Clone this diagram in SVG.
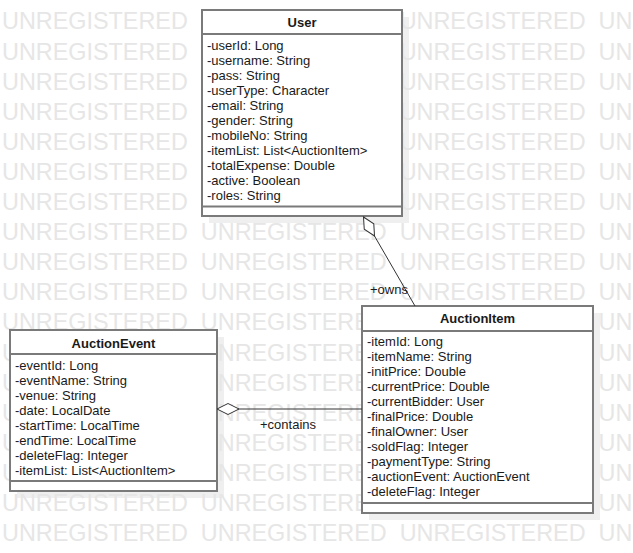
<svg xmlns="http://www.w3.org/2000/svg" width="633" height="553" viewBox="0 0 633 553">
  <style>
    .wm { font-family: "Liberation Sans", Arial, sans-serif; font-size: 23.4px; fill: #e6e6e6; word-spacing: 6.5px; }
    .shadow { fill: #efefef; }
    .box { fill: #ffffff; stroke: #7a7a7a; stroke-width: 2; }
    .sep { stroke: #7a7a7a; stroke-width: 2; }
    .title { font-family: "Liberation Sans", Arial, sans-serif; font-size: 13px; font-weight: bold; fill: #1a1a1a; text-anchor: middle; }
    .attr { font-family: "Liberation Sans", Arial, sans-serif; font-size: 13px; fill: #1a1a1a; }
    .conn { fill: none; stroke: #333333; stroke-width: 1; }
    .label { font-family: "Liberation Sans", Arial, sans-serif; font-size: 13px; fill: #1a1a1a; }
  </style>
  <defs>
    <!-- hollow aggregation diamond, placed at the whole end of an association -->
    <marker id="aggregation" markerUnits="userSpaceOnUse" markerWidth="24" markerHeight="12" refX="0" refY="6" orient="auto" overflow="visible">
      <path d="M0,6 L11,0.5 L22,6 L11,11.5 Z" fill="#ffffff" stroke="#333333" stroke-width="1"/>
    </marker>
  </defs>

  <rect width="633" height="553" fill="#ffffff"/>

  <!-- drop shadows -->
  <g id="shadows">
    <rect class="shadow" x="209" y="17" width="200" height="206"/>
    <rect class="shadow" x="17" y="337" width="207" height="161"/>
    <rect class="shadow" x="369" y="313" width="231" height="207"/>
  </g>

  <!-- background watermark -->
  <g id="watermark">
    <text class="wm" x="2" y="29.4">UNREGISTERED UNREGISTERED UNREGISTERED UNREGISTERED</text>
    <text class="wm" x="2" y="59.5">UNREGISTERED UNREGISTERED UNREGISTERED UNREGISTERED</text>
    <text class="wm" x="2" y="89.6">UNREGISTERED UNREGISTERED UNREGISTERED UNREGISTERED</text>
    <text class="wm" x="2" y="119.7">UNREGISTERED UNREGISTERED UNREGISTERED UNREGISTERED</text>
    <text class="wm" x="2" y="149.8">UNREGISTERED UNREGISTERED UNREGISTERED UNREGISTERED</text>
    <text class="wm" x="2" y="179.9">UNREGISTERED UNREGISTERED UNREGISTERED UNREGISTERED</text>
    <text class="wm" x="2" y="210">UNREGISTERED UNREGISTERED UNREGISTERED UNREGISTERED</text>
    <text class="wm" x="2" y="240.1">UNREGISTERED UNREGISTERED UNREGISTERED UNREGISTERED</text>
    <text class="wm" x="2" y="270.2">UNREGISTERED UNREGISTERED UNREGISTERED UNREGISTERED</text>
    <text class="wm" x="2" y="300.3">UNREGISTERED UNREGISTERED UNREGISTERED UNREGISTERED</text>
    <text class="wm" x="2" y="330.4">UNREGISTERED UNREGISTERED UNREGISTERED UNREGISTERED</text>
    <text class="wm" x="2" y="360.5">UNREGISTERED UNREGISTERED UNREGISTERED UNREGISTERED</text>
    <text class="wm" x="2" y="390.6">UNREGISTERED UNREGISTERED UNREGISTERED UNREGISTERED</text>
    <text class="wm" x="2" y="420.7">UNREGISTERED UNREGISTERED UNREGISTERED UNREGISTERED</text>
    <text class="wm" x="2" y="450.8">UNREGISTERED UNREGISTERED UNREGISTERED UNREGISTERED</text>
    <text class="wm" x="2" y="480.9">UNREGISTERED UNREGISTERED UNREGISTERED UNREGISTERED</text>
    <text class="wm" x="2" y="511">UNREGISTERED UNREGISTERED UNREGISTERED UNREGISTERED</text>
    <text class="wm" x="2" y="541.1">UNREGISTERED UNREGISTERED UNREGISTERED UNREGISTERED</text>
  </g>

  <!-- class: User -->
  <g id="user">
    <rect class="box" x="202" y="10" width="200" height="206"/>
    <line class="sep" x1="202" y1="34" x2="402" y2="34"/>
    <line class="sep" x1="202" y1="206.5" x2="402" y2="206.5"/>
    <text class="title" x="302" y="27">User</text>
    <text class="attr" x="207" y="49.5">-userId: Long</text>
    <text class="attr" x="207" y="64.5">-username: String</text>
    <text class="attr" x="207" y="79.5">-pass: String</text>
    <text class="attr" x="207" y="94.5">-userType: Character</text>
    <text class="attr" x="207" y="109.5">-email: String</text>
    <text class="attr" x="207" y="124.5">-gender: String</text>
    <text class="attr" x="207" y="139.5">-mobileNo: String</text>
    <text class="attr" x="207" y="154.5">-itemList: List&lt;AuctionItem&gt;</text>
    <text class="attr" x="207" y="169.5">-totalExpense: Double</text>
    <text class="attr" x="207" y="184.5">-active: Boolean</text>
    <text class="attr" x="207" y="199.5">-roles: String</text>
  </g>

  <!-- class: AuctionEvent -->
  <g id="auction-event">
    <rect class="box" x="10" y="330" width="207" height="161"/>
    <line class="sep" x1="10" y1="354" x2="217" y2="354"/>
    <line class="sep" x1="10" y1="481" x2="217" y2="481"/>
    <text class="title" x="113.5" y="347.5">AuctionEvent</text>
    <text class="attr" x="15" y="370">-eventId: Long</text>
    <text class="attr" x="15" y="385">-eventName: String</text>
    <text class="attr" x="15" y="400">-venue: String</text>
    <text class="attr" x="15" y="415">-date: LocalDate</text>
    <text class="attr" x="15" y="430">-startTime: LocalTime</text>
    <text class="attr" x="15" y="445">-endTime: LocalTime</text>
    <text class="attr" x="15" y="460">-deleteFlag: Integer</text>
    <text class="attr" x="15" y="475">-itemList: List&lt;AuctionItem&gt;</text>
  </g>

  <!-- class: AuctionItem -->
  <g id="auction-item">
    <rect class="box" x="362" y="306" width="231" height="207"/>
    <line class="sep" x1="362" y1="331" x2="593" y2="331"/>
    <line class="sep" x1="362" y1="503" x2="593" y2="503"/>
    <text class="title" x="477.5" y="323">AuctionItem</text>
    <text class="attr" x="367" y="346">-itemId: Long</text>
    <text class="attr" x="367" y="361">-itemName: String</text>
    <text class="attr" x="367" y="376">-initPrice: Double</text>
    <text class="attr" x="367" y="391">-currentPrice: Double</text>
    <text class="attr" x="367" y="406">-currentBidder: User</text>
    <text class="attr" x="367" y="421">-finalPrice: Double</text>
    <text class="attr" x="367" y="436">-finalOwner: User</text>
    <text class="attr" x="367" y="451">-soldFlag: Integer</text>
    <text class="attr" x="367" y="466">-paymentType: String</text>
    <text class="attr" x="367" y="481">-auctionEvent: AuctionEvent</text>
    <text class="attr" x="367" y="496">-deleteFlag: Integer</text>
  </g>

  <!-- associations -->
  <g id="connectors">
    <path class="conn" d="M363.5,217 L415,306" marker-start="url(#aggregation)"/>
    <text class="label" x="370" y="294">+owns</text>
    <path class="conn" d="M217,409 L362,409" marker-start="url(#aggregation)"/>
    <text class="label" x="260" y="429">+contains</text>
  </g>
</svg>
